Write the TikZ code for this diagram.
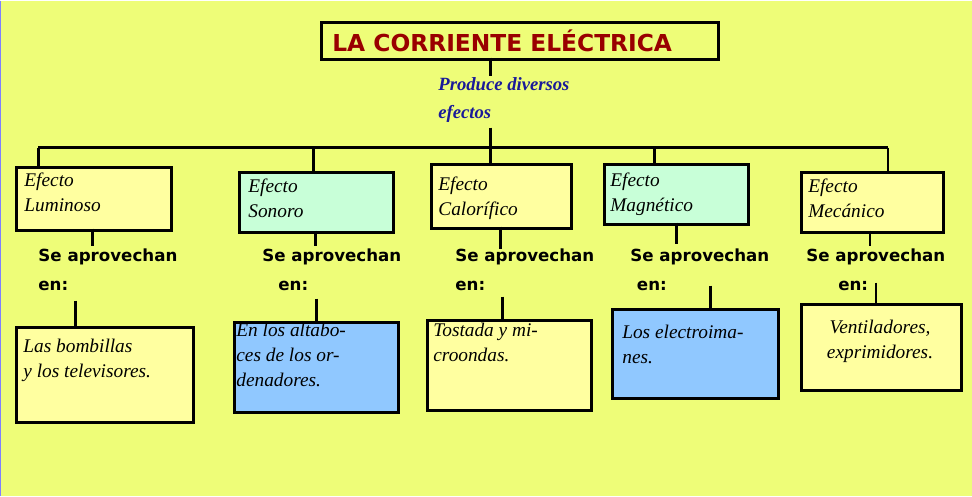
\documentclass[tikz,border=0pt]{standalone}
\usepackage{fontspec}
\setmainfont{Liberation Serif}
\newfontfamily\comic{DejaVu Sans}
\definecolor{bg}{HTML}{EEFD78}
\definecolor{ylw}{HTML}{FFFFA0}
\definecolor{mint}{HTML}{C8FFD8}
\definecolor{blu}{HTML}{90C8FF}
\definecolor{ttl}{HTML}{990000}
\definecolor{prd}{HTML}{1A1A99}
\tikzset{
 bx/.style={draw=black,line width=2.2pt,anchor=north west,inner sep=0pt},
 it/.style={anchor=north west,align=left,font=\fontsize{14.5}{19}\selectfont\itshape,inner sep=0pt},
 sa/.style={anchor=north west,align=left,font=\comic\bfseries\fontsize{12.5}{22}\selectfont,inner sep=0pt},
 ln/.style={line width=2.2pt},
}
\begin{document}
\begin{tikzpicture}[x=0.75pt,y=-0.75pt]
\fill[bg] (0,0) rectangle (972,495);
\draw[blue!50,line width=1pt] (0.5,0) -- (0.5,495);
\useasboundingbox (0,0) rectangle (972,495);
% title
\node[bx,minimum width=397*0.75pt,minimum height=37*0.75pt] (T) at (320,20) {};
\node[anchor=west,text=ttl,font=\comic\bfseries\fontsize{17.5}{20}\selectfont,inner sep=0pt] (Tt) at (332,40) {LA CORRIENTE ELÉCTRICA};
\coordinate (t1) at (490,75);
\draw[ln] (490,57) -- (t1);
\node[anchor=north west,align=left,text=prd,font=\fontsize{14}{21}\selectfont\itshape\bfseries,inner sep=0pt] (P) at (438,77) {Produce diversos\\efectos};
\coordinate (h0) at (490,127);
\coordinate (hl) at (38,147);
\coordinate (hr) at (888,147);
\draw[ln] (h0) -- (490,147);
\draw[ln] (hl) -- (hr);
% effect boxes
\node[bx,fill=ylw,minimum width=155*0.75pt,minimum height=63*0.75pt] (E1) at (15,165) {};
\node[it] at (24,172) {Efecto\\Luminoso};
\node[bx,fill=mint,minimum width=154*0.75pt,minimum height=60*0.75pt] (E2) at (238,170) {};
\node[it] at (248,178) {Efecto\\Sonoro};
\node[bx,fill=ylw,minimum width=140*0.75pt,minimum height=64*0.75pt] (E3) at (430,162) {};
\node[it] at (438,176) {Efecto\\Calorífico};
\node[bx,fill=mint,minimum width=144*0.75pt,minimum height=60*0.75pt] (E4) at (603,162) {};
\node[it] at (610,172) {Efecto\\Magnético};
\node[bx,fill=ylw,minimum width=142*0.75pt,minimum height=60*0.75pt] (E5) at (800,170) {};
\node[it] at (808,178) {Efecto\\Mecánico};
\draw[ln] (38,147) -- (38,165);
\draw[ln] (313,147) -- (313,170);
\draw[ln] (490,147) -- (490,162);
\draw[ln] (654,147) -- (654,162);
\draw[ln] (888,147) -- (888,170);
% se aprovechan
\node[sa] (S1) at (38,248) {Se aprovechan\\en:};
\node[sa] (S2) at (262,248) {Se aprovechan\\\hspace*{12pt}en:};
\node[sa] (S3) at (455,248) {Se aprovechan\\en:};
\node[sa] (S4) at (630,248) {Se aprovechan\\\hspace*{5pt}en:};
\node[sa] (S5) at (806,248) {Se aprovechan\\\hspace*{24pt}en:};
\draw[ln] (92,228) -- (92,245);
\draw[ln] (315,230) -- (315,245);
\draw[ln] (500,226) -- (500,248);
\draw[ln] (676,222) -- (676,243);
\draw[ln] (870,230) -- (870,245);
% result boxes
\node[bx,fill=ylw,minimum width=177*0.75pt,minimum height=95*0.75pt] (R1) at (15,325) {};
\node[it] at (23,338) {Las bombillas\\y los televisores.};
\node[bx,fill=blu,minimum width=164*0.75pt,minimum height=90*0.75pt] (R2) at (233,320) {};
\node[it] at (236,322) {En los altabo-\\ces de los or-\\denadores.};
\node[bx,fill=ylw,minimum width=164*0.75pt,minimum height=90*0.75pt] (R3) at (426,318) {};
\node[it] at (433,322) {Tostada y mi-\\croondas.};
\node[bx,fill=blu,minimum width=166*0.75pt,minimum height=89*0.75pt] (R4) at (611,307) {};
\node[it] at (622,324) {Los electroima-\\nes.};
\node[bx,fill=ylw,minimum width=160*0.75pt,minimum height=86*0.75pt] (R5) at (800,302) {};
\node[it,align=center,anchor=north] at (880,319) {Ventiladores,\\exprimidores.};
\draw[ln] (75,300) -- (75,325);
\draw[ln] (316,298) -- (316,320);
\draw[ln] (502,296) -- (502,318);
\draw[ln] (710,285) -- (710,307);
\draw[ln] (876,282) -- (876,302);
\end{tikzpicture}
\end{document}
